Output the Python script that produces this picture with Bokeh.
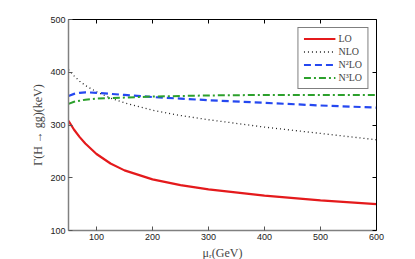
from bokeh.plotting import figure
from bokeh.models import LinearAxis, Range1d, FixedTicker, Legend, LegendItem
from bokeh.embed import file_html
from bokeh.resources import INLINE

mu = [50, 60, 70, 80, 100, 125, 150, 200, 250, 300, 400, 500, 600]
lo = [308, 291, 277, 265, 245, 227, 214, 197, 186, 178, 166, 157, 150]
nlo = [405, 393, 383, 375, 363, 351, 342, 328, 318, 310, 296, 284, 272]
n2lo = [355, 359, 361, 362, 361, 359, 357, 353, 350, 347, 342, 337, 333]
n3lo = [340, 344, 346, 348, 350, 351, 352, 354, 355, 356, 357, 357, 357]
xticks = [100, 200, 300, 400, 500, 600]
yticks = [100, 200, 300, 400, 500]

p = figure(frame_width=308, frame_height=211, x_range=Range1d(50, 600), y_range=Range1d(100, 500),
           output_backend="svg", toolbar_location=None,
           min_border_left=68, min_border_right=10, min_border_top=19, min_border_bottom=10)
p.grid.visible = False
p.outline_line_color = None

serif = "Liberation Serif"
r1 = p.line(mu, lo, line_color="#e41a1c", line_width=2.2)
r2 = p.line(mu, nlo, line_color="#222222", line_width=1.3, line_dash="1 3")
r3 = p.line(mu, n2lo, line_color="#2548f0", line_width=2.2, line_dash="7 4")
r4 = p.line(mu, n3lo, line_color="#2ca02c", line_width=2.0, line_dash="7 3 2 3")

for ax in [p.xaxis[0], p.yaxis[0]]:
    ax.major_tick_in = 4
    ax.major_tick_out = 0
    ax.minor_tick_line_color = None
    ax.axis_line_color = "#808080"
    ax.axis_line_width = 1.5
    ax.major_tick_line_color = "#555555"
    ax.major_label_text_font = "Liberation Sans"
    ax.major_label_text_font_size = "9px"
    ax.major_label_text_color = "#222222"
    ax.axis_label_text_font = serif
    ax.axis_label_text_font_style = "normal"
    ax.axis_label_text_font_size = "12px"
    ax.major_label_standoff = 3
p.xaxis[0].ticker = FixedTicker(ticks=xticks)
p.yaxis[0].ticker = FixedTicker(ticks=yticks)
p.xaxis[0].axis_label = "μᵣ(GeV)"
p.xaxis[0].axis_label_standoff = 3
p.yaxis[0].axis_label = "Γ(H → gg)(keV)"
p.yaxis[0].axis_label_standoff = 2

top = LinearAxis(ticker=FixedTicker(ticks=xticks), major_label_text_color=None,
                 major_tick_in=4, major_tick_out=0, minor_tick_line_color=None,
                 axis_line_color="black", major_label_standoff=0)
right = LinearAxis(ticker=FixedTicker(ticks=yticks), major_label_text_color=None,
                   major_tick_in=4, major_tick_out=0, minor_tick_line_color=None,
                   axis_line_color="black", major_label_standoff=0)
p.add_layout(top, "above")
p.add_layout(right, "right")

legend = Legend(items=[LegendItem(label="LO", renderers=[r1]),
                       LegendItem(label="NLO", renderers=[r2]),
                       LegendItem(label="N²LO", renderers=[r3]),
                       LegendItem(label="N³LO", renderers=[r4])],
                location="top_right", label_text_font=serif, label_text_font_size="10px",
                border_line_color="black", border_line_width=1, glyph_width=32,
                glyph_height=9, label_height=9, spacing=2, padding=5, margin=8,
                label_standoff=3, background_fill_alpha=1)
p.add_layout(legend)

open("out.html", "w").write(file_html(p, INLINE))
